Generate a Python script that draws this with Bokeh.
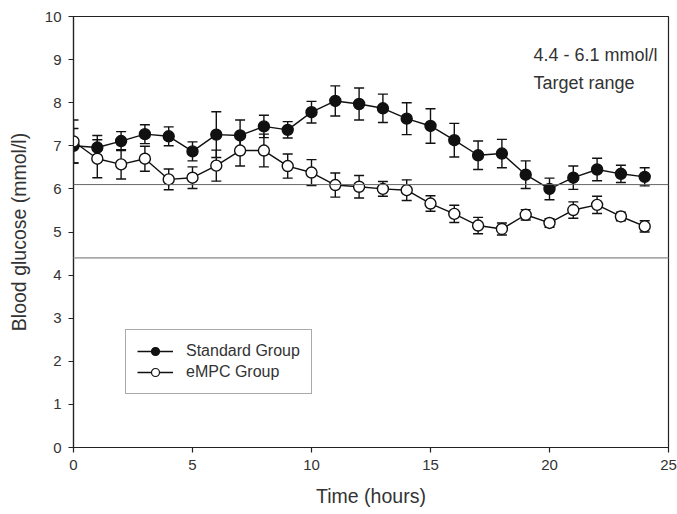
from bokeh.plotting import figure
from bokeh.models import Span, Label, FixedTicker, ColumnDataSource, Legend, LegendItem, Range1d
from bokeh.embed import file_html
from bokeh.resources import INLINE

hours = list(range(25))
std_mean = [7.0, 6.96, 7.11, 7.27, 7.22, 6.87, 7.26, 7.24, 7.45, 7.37, 7.78, 8.04, 7.97,
            7.87, 7.63, 7.46, 7.13, 6.78, 6.82, 6.33, 6.0, 6.26, 6.45, 6.35, 6.28]
std_err = [0.4, 0.28, 0.22, 0.22, 0.22, 0.22, 0.53, 0.36, 0.26, 0.19, 0.25, 0.35, 0.37,
           0.33, 0.37, 0.40, 0.39, 0.33, 0.33, 0.32, 0.25, 0.27, 0.26, 0.2, 0.21]
empc_mean = [7.1, 6.70, 6.57, 6.70, 6.22, 6.26, 6.54, 6.89, 6.89, 6.53, 6.38, 6.09, 6.05,
             6.0, 5.97, 5.66, 5.42, 5.15, 5.07, 5.40, 5.21, 5.51, 5.63, 5.36, 5.13]
empc_err = [0.5, 0.44, 0.34, 0.29, 0.24, 0.25, 0.36, 0.36, 0.38, 0.28, 0.3, 0.28, 0.26,
            0.17, 0.24, 0.18, 0.2, 0.19, 0.14, 0.12, 0.1, 0.19, 0.2, 0.1, 0.13]
target_low = 4.4
target_high = 6.1
x_ticks = [0, 5, 10, 15, 20, 25]
y_ticks = list(range(11))

FONT = "Liberation Sans"
TXT = "#333333"
NAN = float("nan")

p = figure(width=677, height=514, output_backend="svg", toolbar_location=None,
           x_range=Range1d(0, 25), y_range=Range1d(0, 10),
           min_border_left=73, min_border_right=9, min_border_top=16, min_border_bottom=67)
p.frame_width = 595
p.frame_height = 431
p.xgrid.visible = False
p.ygrid.visible = False
p.outline_line_color = "#222222"
p.outline_line_width = 1.2
p.background_fill_color = "white"
p.border_fill_color = "white"

for ax in (p.xaxis, p.yaxis):
    ax.axis_line_color = "#222222"
    ax.axis_line_width = 1.2
    ax.major_tick_line_color = "#222222"
    ax.major_tick_line_width = 1.2
    ax.minor_tick_line_color = None
    ax.major_tick_out = 5
    ax.major_tick_in = 0
    ax.major_label_text_font = FONT
    ax.major_label_text_font_size = "15px"
    ax.major_label_text_color = TXT
    ax.axis_label_text_font = FONT
    ax.axis_label_text_font_size = "19.5px"
    ax.axis_label_text_font_style = "normal"
    ax.axis_label_text_color = TXT

p.xaxis.ticker = FixedTicker(ticks=x_ticks)
p.yaxis.ticker = FixedTicker(ticks=y_ticks)
p.xaxis.axis_label = "Time (hours)"
p.yaxis.axis_label = "Blood glucose (mmol/l)"
p.xaxis.major_label_standoff = 7
p.yaxis.major_label_standoff = 7
p.xaxis.axis_label_standoff = 12
p.yaxis.axis_label_standoff = 12

p.add_layout(Span(location=target_high, dimension="width", line_color="#666666", line_width=1))
p.add_layout(Span(location=target_low, dimension="width", line_color="#aaaaaa", line_width=1.6))

def series(mean, err, fill):
    src = ColumnDataSource(dict(x=hours, y=mean,
                                lo=[m - e for m, e in zip(mean, err)],
                                hi=[m + e for m, e in zip(mean, err)]))
    p.line("x", "y", source=src, line_color="#111111", line_width=1.4)
    p.segment("x", "lo", "x", "hi", source=src, line_color="#111111", line_width=1.4)
    p.scatter("x", "lo", source=src, marker="dash", size=10, line_color="#111111", line_width=1.4)
    p.scatter("x", "hi", source=src, marker="dash", size=10, line_color="#111111", line_width=1.4)
    p.scatter("x", "y", source=src, marker="circle", size=11, fill_color=fill,
              line_color="#111111", line_width=1.4)

series(std_mean, std_err, "#111111")
series(empc_mean, empc_err, "white")

# legend-only glyphs (smaller markers as in the original key); NaN data is not drawn
s_ln = p.line(x=[NAN], y=[NAN], line_color="#111111", line_width=1.3)
s_mk = p.scatter(x=[NAN], y=[NAN], marker="circle", size=8, fill_color="#111111",
                 line_color="#111111", line_width=1.2)
e_ln = p.line(x=[NAN], y=[NAN], line_color="#111111", line_width=1.3)
e_mk = p.scatter(x=[NAN], y=[NAN], marker="circle", size=8, fill_color="white",
                 line_color="#111111", line_width=1.2)

legend = Legend(items=[LegendItem(label="Standard Group", renderers=[s_ln, s_mk]),
                       LegendItem(label="eMPC Group", renderers=[e_ln, e_mk])],
                location=(52, 53), border_line_color="#555555", border_line_width=1.2,
                label_text_font=FONT, label_text_font_size="16px", label_text_color=TXT,
                glyph_width=36, glyph_height=20, label_height=20, label_standoff=13,
                spacing=1, padding=11, margin=0, background_fill_alpha=1)
p.add_layout(legend, "center")

p.add_layout(Label(x=19.33, y=9.1, text="4.4 - 6.1 mmol/l", text_font=FONT,
                   text_font_size="18px", text_color=TXT, text_baseline="middle"))
p.add_layout(Label(x=19.33, y=8.45, text="Target range", text_font=FONT,
                   text_font_size="18px", text_color=TXT, text_baseline="middle"))

open("out.html", "w").write(file_html(p, INLINE))
